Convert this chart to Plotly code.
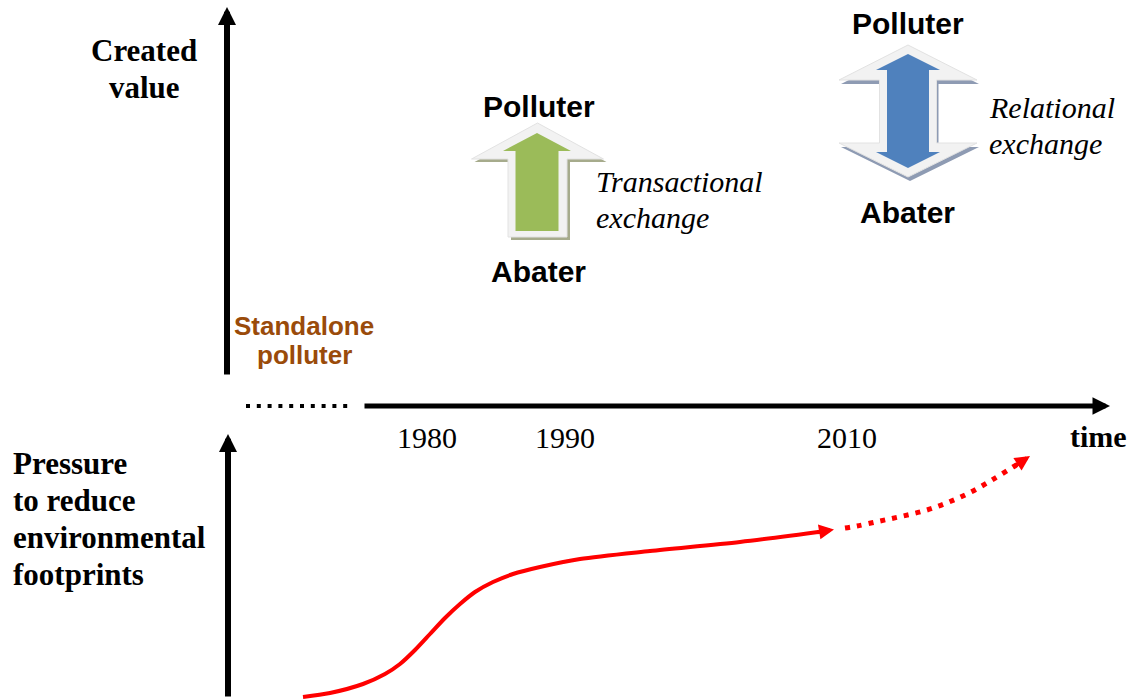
import plotly.graph_objects as go

W, H = 1134, 700

# ---- data (pixel-space diagram coordinates) ----
solid_x = [303, 330, 363, 385, 400, 415, 430, 445, 460, 475, 493, 513, 540, 580, 650, 740, 826]
solid_y = [697, 693, 684, 674, 664, 650, 634, 618, 604, 592, 582, 574, 567, 559, 551, 542, 531]
dotted_x = [845, 857, 880, 903, 927, 949, 971, 992, 1013, 1018]
dotted_y = [528, 526, 521, 516, 510, 502, 492, 480, 467, 464]

tick_labels = ["1980", "1990", "2010"]
tick_pos = [427, 565, 847]

SERIF = "Liberation Serif, Times New Roman, serif"
SANS = "Liberation Sans, Arial, sans-serif"

fig = go.Figure()

# red pressure curve
fig.add_trace(go.Scatter(x=solid_x, y=solid_y, mode="lines",
                         line=dict(color="#FF0000", width=4, shape="spline", smoothing=0.8),
                         hoverinfo="skip", showlegend=False))
fig.add_trace(go.Scatter(x=dotted_x, y=dotted_y, mode="lines",
                         line=dict(color="#FF0000", width=5, shape="spline", dash="5px,7px"),
                         hoverinfo="skip", showlegend=False))
# dotted black prefix of time axis
fig.add_trace(go.Scatter(x=[246, 348], y=[406, 406], mode="lines",
                         line=dict(color="black", width=4, dash="4px,6.8px"),
                         hoverinfo="skip", showlegend=False))

annotations = []

def arrow(tail, tip, color, width, size):
    annotations.append(dict(x=tip[0], y=tip[1], ax=tail[0], ay=tail[1],
                            xref="x", yref="y", axref="x", ayref="y",
                            text="", showarrow=True, arrowhead=2,
                            arrowsize=size, arrowwidth=width, arrowcolor=color))

# axes
arrow((227, 376), (227, 7), "black", 6, 0.6)
arrow((228, 698), (228, 434), "black", 6, 0.6)
arrow((363, 406), (1110, 406), "black", 5, 0.7)
# red arrowheads
arrow((816, 532.5), (834, 529.5), "#FF0000", 4, 0.75)
arrow((1014, 466.5), (1030, 456), "#FF0000", 4, 0.75)

def text(x, y, s, size, family, color="black", bold=False, italic=False, xanchor="center"):
    t = s
    if bold:
        t = "<b>" + t + "</b>"
    if italic:
        t = "<i>" + t + "</i>"
    annotations.append(dict(x=x, y=y, xref="x", yref="y", text=t, showarrow=False,
                            xanchor=xanchor, yanchor="middle",
                            font=dict(size=size, family=family, color=color)))

# axis titles
text(144, 50, "Created", 31, SERIF, bold=True)
text(144, 87, "value", 31, SERIF, bold=True)
for i, line in enumerate(["Pressure", "to reduce", "environmental", "footprints"]):
    text(11, 463 + 37 * i, line, 31, SERIF, bold=True, xanchor="left")

# ticks
for lab, px in zip(tick_labels, tick_pos):
    text(px, 437, lab, 30, SERIF)
text(1098, 436, "time", 30, SERIF, bold=True)

# standalone polluter
text(304, 326, "Standalone", 26, SANS, color="#9A4B0A", bold=True)
text(304, 355, "polluter", 26, SANS, color="#9A4B0A", bold=True)

# transactional block
text(539, 106, "Polluter", 30, SANS, bold=True)
text(538, 271, "Abater", 30, SANS, bold=True)
text(594, 181, "Transactional", 30, SERIF, italic=True, xanchor="left")
text(594, 217, "exchange", 30, SERIF, italic=True, xanchor="left")

# relational block
text(908, 23, "Polluter", 30, SANS, bold=True)
text(907, 212, "Abater", 30, SANS, bold=True)
text(987, 107, "Relational", 30, SERIF, italic=True, xanchor="left")
text(987, 143, "exchange", 30, SERIF, italic=True, xanchor="left")

# ---- block arrows ----
def up_arrow(cx, tip, hb, hh, hs, bottom, dx=0, dy=0):
    pts = [(cx, tip), (cx + hh, hb), (cx + hs, hb), (cx + hs, bottom),
           (cx - hs, bottom), (cx - hs, hb), (cx - hh, hb)]
    return "M " + " L ".join(f"{x+dx},{y+dy}" for x, y in pts) + " Z"

def double_arrow(cx, tip_t, hb_t, hb_b, tip_b, hh, hs, dx=0, dy=0):
    pts = [(cx, tip_t), (cx + hh, hb_t), (cx + hs, hb_t), (cx + hs, hb_b),
           (cx + hh, hb_b), (cx, tip_b), (cx - hh, hb_b), (cx - hs, hb_b),
           (cx - hs, hb_t), (cx - hh, hb_t)]
    return "M " + " L ".join(f"{x+dx},{y+dy}" for x, y in pts) + " Z"

shapes = []
def add_path(p, fill, line="rgba(0,0,0,0)", lw=0):
    shapes.append(dict(type="path", path=p, xref="x", yref="y",
                       fillcolor=fill, line=dict(color=line, width=lw), layer="below"))

# green (transactional)
add_path(up_arrow(537.5, 123, 159, 66, 29.5, 237, 3, 3), "#A6AB8C")
add_path(up_arrow(537.5, 123, 159, 66, 29.5, 237), "#F2F2F2", "#E2E2E2", 1)
add_path(up_arrow(537, 133, 151, 34, 21.5, 231), "#9BBB59")

# blue (relational)
add_path(double_arrow(908, 45, 80, 143, 177, 69, 28.5, 2, 4), "#8E9BB3")
add_path(double_arrow(908, 45, 80, 143, 177, 69, 28.5), "#F2F2F2", "#E2E2E2", 1)
add_path(double_arrow(908, 54, 70, 152, 168, 32, 21), "#4F81BD")

fig.update_layout(
    width=W, height=H,
    margin=dict(l=0, r=0, t=0, b=0),
    paper_bgcolor="white", plot_bgcolor="white",
    xaxis=dict(range=[0, W], visible=False, fixedrange=True),
    yaxis=dict(range=[H, 0], visible=False, fixedrange=True),
    annotations=annotations, shapes=shapes, showlegend=False,
)

fig.write_html("out.html", config={"displayModeBar": False},
               post_script="document.body.style.margin='0px';document.body.style.overflow='hidden';")
